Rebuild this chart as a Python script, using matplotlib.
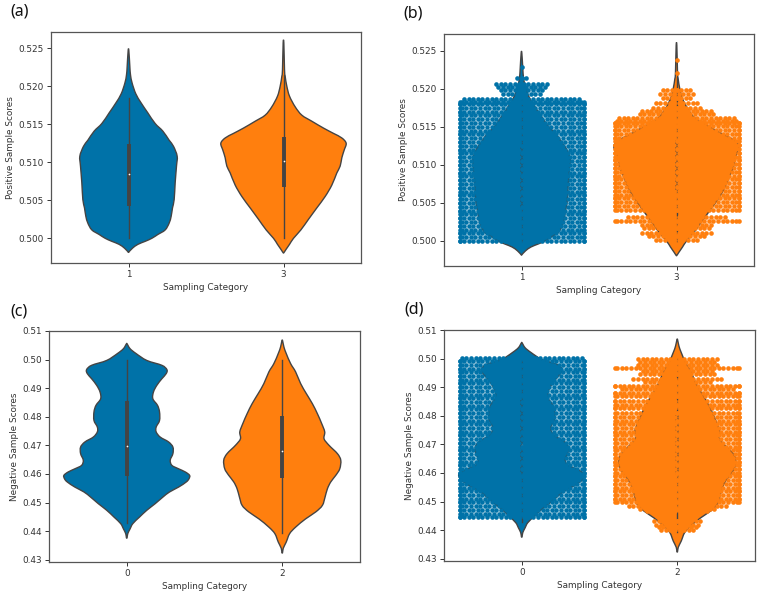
import matplotlib
matplotlib.use('Agg')
import matplotlib.pyplot as plt
from matplotlib.patches import PathPatch
from matplotlib.path import Path
import numpy as np

plt.rcParams['font.family'] = ['DejaVu Sans']
plt.rcParams['axes.linewidth'] = 0.9
plt.rcParams['axes.edgecolor'] = '#555555'
plt.rcParams['text.color'] = '#333333'
plt.rcParams['axes.labelcolor'] = '#333333'
plt.rcParams['xtick.color'] = '#333333'
plt.rcParams['ytick.color'] = '#333333'

blue = '#0072A8'
orange = '#FF7F0E'
line = '#444444'

# violin outlines: score, half width (in 1/465 of a category)
pos1_y = [0.4982, 0.4987, 0.4992, 0.4996, 0.5000, 0.5005, 0.5011, 0.5020, 0.5029, 0.5040, 0.5051,
          0.5073, 0.5095, 0.5108, 0.5121, 0.5129, 0.5141, 0.5151, 0.5165, 0.5178, 0.5190, 0.5204,
          0.5215, 0.5226, 0.5247]
pos1_w = [1, 12, 28, 50, 70, 88, 110, 122, 128, 132, 137, 140, 144, 146, 135, 122, 103, 80, 58, 38,
          22, 11, 6, 4, 1]
pos3_y = [0.4981, 0.4985, 0.4992, 0.5000, 0.5011, 0.5025, 0.5040, 0.5055, 0.5070, 0.5086, 0.5095,
          0.5106, 0.5116, 0.5125, 0.5132, 0.5138, 0.5145, 0.5154, 0.5162, 0.5173, 0.5187, 0.5200,
          0.5213, 0.5222, 0.5257]
pos3_w = [1, 7, 18, 30, 52, 75, 100, 125, 145, 160, 170, 175, 182, 188, 175, 150, 120, 85, 55, 35,
          18, 10, 5, 3, 1]
neg0_y = [0.4377, 0.4391, 0.4408, 0.4426, 0.4449, 0.4473, 0.4496, 0.4519, 0.4537, 0.4554, 0.4572,
          0.4583, 0.4595, 0.4607, 0.4618, 0.4630, 0.4648, 0.4671, 0.4694, 0.4712, 0.4729, 0.4747,
          0.4764, 0.4787, 0.4817, 0.4840, 0.4863, 0.4887, 0.4910, 0.4933, 0.4951, 0.4965, 0.4980,
          0.4997, 0.5021, 0.5038, 0.5055]
neg0_w = [1, 3, 10, 18, 38, 60, 85, 108, 128, 155, 178, 186, 188, 175, 155, 135, 130, 138, 138, 125,
          100, 88, 88, 98, 98, 92, 78, 80, 90, 105, 118, 120, 105, 60, 28, 10, 1]
neg2_y = [0.4325, 0.4340, 0.4362, 0.4391, 0.4414, 0.4443, 0.4467, 0.4490, 0.4519, 0.4548, 0.4572,
          0.4595, 0.4618, 0.4648, 0.4671, 0.4700, 0.4723, 0.4747, 0.4776, 0.4811, 0.4846, 0.4881,
          0.4916, 0.4957, 0.4986, 0.5021, 0.5044, 0.5066]
neg2_w = [1, 3, 12, 22, 40, 70, 100, 120, 128, 135, 145, 160, 172, 175, 165, 140, 125, 127, 118, 105,
          90, 72, 55, 40, 25, 12, 5, 1]

# box stats: low whisker, q1, median, q3, high whisker
pos1_box = [0.5000, 0.5043, 0.5084, 0.5124, 0.5185]
pos3_box = [0.5000, 0.5067, 0.5102, 0.5133, 0.5215]
neg0_box = [0.4430, 0.4592, 0.4697, 0.4855, 0.5000]
neg2_box = [0.4395, 0.4585, 0.4680, 0.4803, 0.5000]

# swarm rows: score of the row, dots per side (0 = lone dot on the centre line)
swarm1_y = [0.5000, 0.5005, 0.5010, 0.5015, 0.5020, 0.5025, 0.5030, 0.5035, 0.5040, 0.5045, 0.5050,
            0.5055, 0.5060, 0.5065, 0.5070, 0.5075, 0.5080, 0.5085, 0.5090, 0.5095, 0.5100, 0.5105,
            0.5110, 0.5115, 0.5120, 0.5125, 0.5130, 0.5135, 0.5140, 0.5145, 0.5150, 0.5155, 0.5160,
            0.5165, 0.5170, 0.5175, 0.5180, 0.5183, 0.5187, 0.5193, 0.5199, 0.5203, 0.5207, 0.5214,
            0.5229]
swarm1_n = [15, 15, 15, 15, 15, 15, 15, 15, 15, 15, 15, 15, 15, 15, 15, 15, 15, 15, 15, 15, 15, 15,
            15, 15, 15, 15, 15, 15, 15, 15, 15, 15, 15, 15, 15, 15, 15, 15, 13, 5, 5, 6, 6, 2, 0]
swarm3_y = [0.5001, 0.5007, 0.5011, 0.5017, 0.5021, 0.5026, 0.5032, 0.5041, 0.5046, 0.5051, 0.5056,
            0.5061, 0.5066, 0.5071, 0.5076, 0.5081, 0.5086, 0.5091, 0.5096, 0.5101, 0.5106, 0.5111,
            0.5116, 0.5121, 0.5126, 0.5131, 0.5136, 0.5141, 0.5146, 0.5151, 0.5155, 0.5158, 0.5162,
            0.5167, 0.5171, 0.5175, 0.5182, 0.5188, 0.5193, 0.5198, 0.5221, 0.5238]
swarm3_n = [5, 7, 8, 8, 8, 15, 11, 15, 15, 15, 15, 15, 15, 15, 15, 15, 15, 15, 15, 15, 15, 15, 15,
            15, 15, 15, 15, 15, 15, 15, 15, 14, 13, 9, 8, 6, 5, 4, 4, 4, 0, 0]
swarm0_y = [0.4445, 0.4458, 0.4471, 0.4484, 0.4497, 0.4510, 0.4523, 0.4536, 0.4549, 0.4562, 0.4575,
            0.4588, 0.4601, 0.4614, 0.4627, 0.4640, 0.4653, 0.4666, 0.4679, 0.4692, 0.4705, 0.4718,
            0.4731, 0.4744, 0.4757, 0.4770, 0.4783, 0.4796, 0.4809, 0.4822, 0.4835, 0.4848, 0.4861,
            0.4874, 0.4887, 0.4900, 0.4913, 0.4926, 0.4939, 0.4952, 0.4965, 0.4978, 0.4991, 0.5003]
swarm0_n = [15] * 43 + [14]
swarm2_y = [0.4402, 0.4412, 0.4419, 0.4433, 0.4468, 0.4475, 0.4483, 0.4497, 0.4510, 0.4523, 0.4536,
            0.4549, 0.4562, 0.4575, 0.4588, 0.4601, 0.4614, 0.4627, 0.4640, 0.4653, 0.4666, 0.4679,
            0.4692, 0.4705, 0.4718, 0.4731, 0.4744, 0.4757, 0.4770, 0.4783, 0.4796, 0.4808, 0.4827,
            0.4839, 0.4851, 0.4868, 0.4878, 0.4892, 0.4903, 0.4917, 0.4929, 0.4945, 0.4955, 0.4966,
            0.4977, 0.4988, 0.4999]
swarm2_n = [4, 5, 5, 6, 7, 9, 11, 15, 15, 15, 15, 15, 15, 15, 15, 15, 15, 15, 15, 15, 15, 15, 15, 15,
            15, 15, 15, 15, 15, 15, 15, 15, 15, 15, 15, 15, 15, 13, 15, 8, 10, 9, 8, 15, 9, 9, 9]

pos_labels = ['1', '3']
neg_labels = ['0', '2']
pos_ticks = [0.500, 0.505, 0.510, 0.515, 0.520, 0.525]
neg_ticks = [0.43, 0.44, 0.45, 0.46, 0.47, 0.48, 0.49, 0.50, 0.51]


def smooth_path(p):
    # closed catmull-rom through the outline points, as bezier segments
    n = len(p)
    verts = [p[0]]
    codes = [Path.MOVETO]
    for i in range(n):
        a, b, c, d = p[i - 1], p[i], p[(i + 1) % n], p[(i + 2) % n]
        verts += [b + (c - a) / 6, c - (d - b) / 6, c]
        codes += [Path.CURVE4] * 3
    return Path(np.array(verts), codes)


def violin(ax, x, y, w, box, color):
    y = np.array(y)
    w = np.array(w) / 465.0
    p = np.vstack([np.column_stack([x + w, y]), np.column_stack([x - w, y])[::-1]])
    ax.add_patch(PathPatch(smooth_path(p), facecolor=color, edgecolor=line, linewidth=1.0,
                           joinstyle='round', zorder=1))
    ax.plot([x, x], [box[0], box[4]], color=line, linewidth=1.0, zorder=2)
    ax.plot([x, x], [box[1], box[3]], color=line, linewidth=2.8, solid_capstyle='butt', zorder=2)
    ax.scatter([x], [box[2]], s=1.5, color='white', linewidths=0, zorder=2.5)


def swarm(ax, x, rows_y, rows_n, color):
    dx = 0.0297
    xs = []
    ys = []
    for i in range(len(rows_y)):
        n = rows_n[i]
        if n == 0:
            xs.append(x)
            ys.append(rows_y[i])
            continue
        off = 0.5 if i % 2 == 0 else 0.0
        for k in range(n):
            d = min((k + off) * dx, 0.4)
            xs += [x - d, x + d]
            ys += [rows_y[i], rows_y[i]]
    ax.scatter(xs, ys, s=11, color=color, linewidths=0, zorder=3)


def panel(box_px, ylim, ticks, fmt, ylabel, labels):
    l, t, r, b = box_px
    ax = fig.add_axes([l / 762, 1 - b / 594, (r - l) / 762, (b - t) / 594])
    ax.set_xlim(-0.5, 1.5)
    ax.set_ylim(*ylim)
    ax.set_xticks([0, 1])
    ax.set_xticklabels(labels)
    ax.set_yticks(ticks)
    ax.set_yticklabels([fmt % v for v in ticks])
    ax.tick_params(labelsize=6.4, length=2.6, width=0.7, pad=2.5)
    ax.set_xlabel('Sampling Category', fontsize=6.4, labelpad=2.5)
    ax.set_ylabel(ylabel, fontsize=6.4, labelpad=2.5)
    return ax


fig = plt.figure(figsize=(7.62, 5.94), dpi=100)

ax = panel((51, 32, 361, 263), (0.49675, 0.52714), pos_ticks, '%.3f', 'Positive Sample Scores', pos_labels)
violin(ax, 0, pos1_y, pos1_w, pos1_box, blue)
violin(ax, 1, pos3_y, pos3_w, pos3_box, orange)

ax = panel((444, 34, 754, 266), (0.49671, 0.52721), pos_ticks, '%.3f', 'Positive Sample Scores', pos_labels)
violin(ax, 0, pos1_y, pos1_w, pos1_box, blue)
violin(ax, 1, pos3_y, pos3_w, pos3_box, orange)
swarm(ax, 0, swarm1_y, swarm1_n, blue)
swarm(ax, 1, swarm3_y, swarm3_n, orange)

ax = panel((49, 331, 360, 562), (0.4292, 0.51), neg_ticks, '%.2f', 'Negative Sample Scores', neg_labels)
violin(ax, 0, neg0_y, neg0_w, neg0_box, blue)
violin(ax, 1, neg2_y, neg2_w, neg2_box, orange)

ax = panel((444, 330, 755, 561), (0.4292, 0.51), neg_ticks, '%.2f', 'Negative Sample Scores', neg_labels)
violin(ax, 0, neg0_y, neg0_w, neg0_box, blue)
violin(ax, 1, neg2_y, neg2_w, neg2_box, orange)
swarm(ax, 0, swarm0_y, swarm0_n, blue)
swarm(ax, 1, swarm2_y, swarm2_n, orange)

panel_tags = ['(a)', '(b)', '(c)', '(d)']
tag_x = [10, 403, 10, 404]
tag_y = [12, 14, 311, 309]
for i in range(4):
    fig.text(tag_x[i] / 762, 1 - tag_y[i] / 594, panel_tags[i], fontsize=11.5, family='Noto Sans', color='#111111', va='center')

fig.savefig('out.png', dpi=100)
